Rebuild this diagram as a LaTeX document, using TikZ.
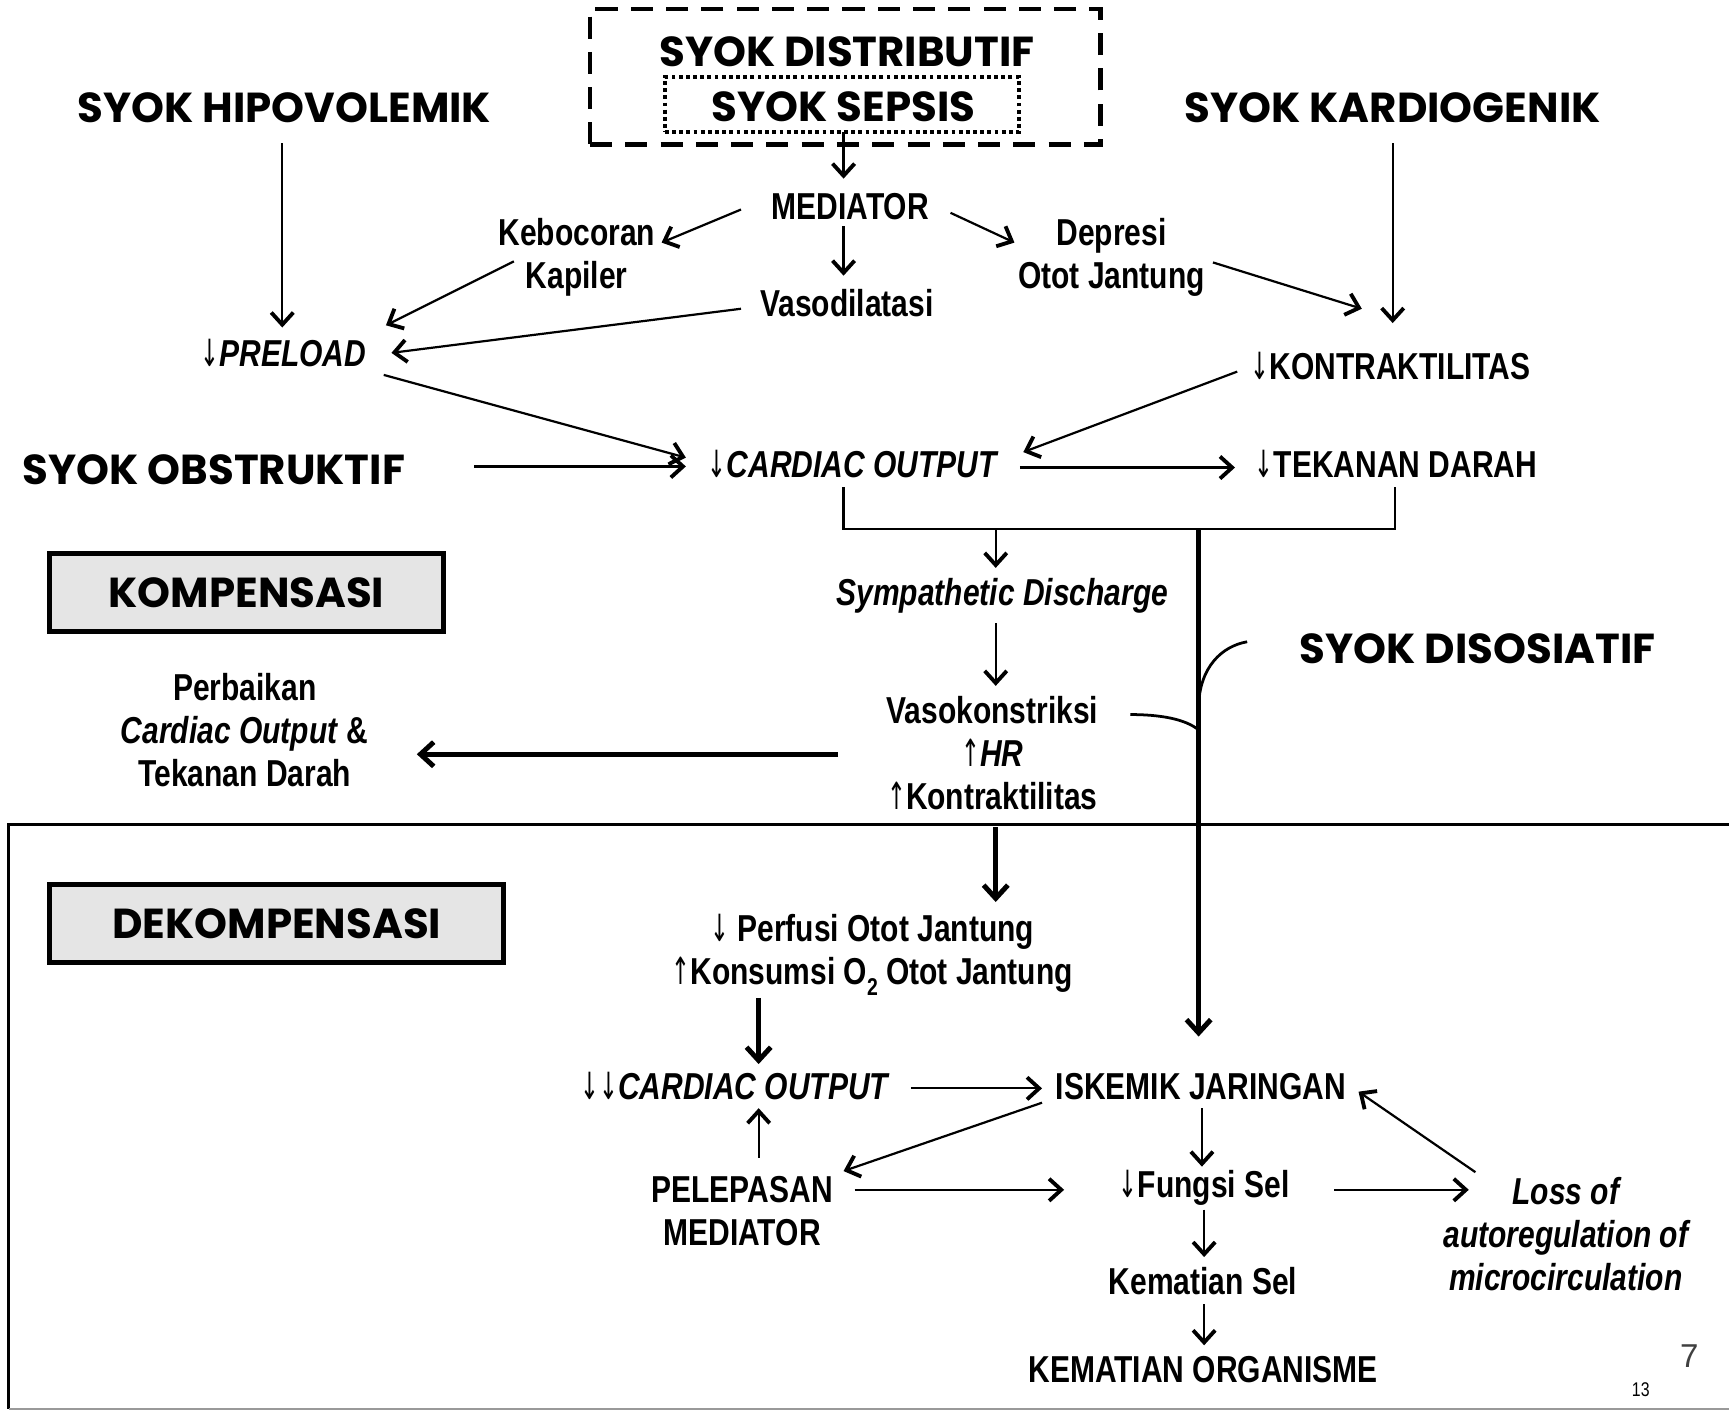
\documentclass[tikz,border=0pt]{standalone}
\usepackage{fontspec}
\setmainfont{Liberation Sans}[FakeStretch=0.8]
\newfontfamily\titlefont{Poppins}
\newfontfamily\arrfont{DejaVu Sans}[FakeStretch=0.6]
\newfontfamily\plainfont{Liberation Sans}
\usetikzlibrary{arrows.meta,calc}
\newcommand{\darr}{{\arrfont\mdseries\upshape ↓}}
\newcommand{\uarr}{{\arrfont\mdseries\upshape ↑}}
\begin{document}
\begin{tikzpicture}[x=1pt,y=-1pt,
  title/.style={font=\titlefont\bfseries\fontsize{38}{44}\selectfont, inner sep=0pt},
  txt/.style={font=\bfseries\fontsize{34}{39}\selectfont, align=center, inner sep=0pt},
  itx/.style={font=\bfseries\itshape\fontsize{34}{39}\selectfont, align=center, inner sep=0pt},
  arr/.style={line width=2pt, -{Straight Barb[length=11pt,width=20pt,line width=3.5pt]}},
  thickarr/.style={line width=4.5pt, -{Straight Barb[length=12pt,width=22pt,line width=4.5pt]}},
  thin/.style={line width=2pt},
  labelbox/.style={draw, line width=4.5pt, fill=black!10, inner sep=0pt,
    font=\titlefont\bfseries\fontsize{38}{44}\selectfont},
]
\useasboundingbox (0,0) rectangle (1568,1280);

% top boxes
\node[draw, dashed, line width=4pt, dash pattern=on 20pt off 12pt, minimum width=463pt, minimum height=123pt, inner sep=0pt] (distbox) at (766.5,69.5) {};
\node[draw, line width=3.5pt, dash pattern=on 3.5pt off 3pt, minimum width=321pt, minimum height=50pt, inner sep=0pt] (sepbox) at (763.5,95) {};
\node[title] (distrib) at (768,47) {SYOK DISTRIBUTIF};
\node[title] (sepsis) at (765,97) {SYOK SEPSIS};

\node[title] (hipo) at (258,98) {SYOK HIPOVOLEMIK};
\node[title] (kardio) at (1263,98) {SYOK KARDIOGENIK};
\node[title] (obstr) at (194,426) {SYOK OBSTRUKTIF};
\node[title] (disos) at (1340,588) {SYOK DISOSIATIF};

\node[txt] (mediator) at (771,187) {MEDIATOR};
\node[txt] (keb) at (523,233) {Kebocoran\\Kapiler};
\node[txt] (vaso) at (768,275) {Vasodilatasi};
\node[txt] (depresi) at (1008,233) {Depresi\\Otot Jantung};
\node[itx] (preload) at (257,320) {\darr PRELOAD};
\node[txt] (kontr) at (1261,332) {\darr KONTRAKTILITAS};
\node[itx] (co) at (773,421) {\darr CARDIAC OUTPUT};
\node[txt] (td) at (1266,421) {\darr TEKANAN DARAH};
\node[itx] (symp) at (909,540) {Sympathetic Discharge};
\node[txt] (vasok) at (900,683) {Vasokonstriksi\\\uarr\textit{HR}\\\uarr Kontraktilitas};
\node[txt] (perb) at (222,662) {Perbaikan\\\textit{Cardiac Output} \&\\Tekanan Darah};

\node[labelbox, minimum width=357pt, minimum height=71pt] (komp) at (223.5,537.5) {KOMPENSASI};
\node[labelbox, minimum width=412pt, minimum height=71pt] (dekomp) at (251,837.5) {DEKOMPENSASI};

\node[txt] (perf) at (791,866) {\darr\ Perfusi Otot Jantung\\\uarr Konsumsi O\raisebox{-0.3em}{\fontsize{22}{24}\selectfont 2} Otot Jantung};
\node[txt] (cco) at (667,985) {\darr\darr\textit{CARDIAC OUTPUT}};
\node[txt] (isk) at (1089,985) {ISKEMIK JARINGAN};
\node[txt] (pel) at (673,1098) {PELEPASAN\\MEDIATOR};
\node[txt] (fungsi) at (1092,1077) {\darr Fungsi Sel};
\node[txt] (kemsel) at (1091,1162) {Kematian Sel};
\node[txt] (kemorg) at (1091,1242) {KEMATIAN ORGANISME};
\node[itx] (loss) at (1420,1119) {Loss of\\autoregulation of\\microcirculation};

\node[font=\plainfont\fontsize{30}{34}\selectfont, text=black!75, inner sep=0pt] (seven) at (1532,1230) {7};
\node[font=\fontsize{18}{20}\selectfont, inner sep=0pt] (thirteen) at (1488,1260) {13};

% frame
\draw[line width=2.5pt] (1568,748) -- (8,748) -- (8,1278);
\draw[line width=2pt, black!40] (8,1278) -- (1568,1278);

% connectors top
\draw[arr] ($(sepbox)+(1.5,25)$) -- ($(mediator)+(-6,-25)$);
\draw[arr] ($(mediator)+(-99,3)$) -- ($(keb)+(77,-13)$);
\draw[arr] ($(mediator)+(-6,18)$) -- ($(vaso)+(-3,-25)$);
\draw[arr] ($(mediator)+(91,6)$) -- ($(depresi)+(-88,-13)$);
\draw[arr] ($(depresi)+(92,5)$) -- ($(kontr)+(-26,-52)$);
\draw[arr] ($(kardio)+(0,32)$) -- ($(kontr)+(2,-39)$);
\draw[arr] ($(hipo)+(-2,32)$) -- ($(preload)+(-1,-23)$);
\draw[arr] ($(keb)+(-57,4)$) -- ($(preload)+(93,-25)$);
\draw[arr] ($(vaso)+(-96,5)$) -- ($(preload)+(98,0)$);
\draw[arr] ($(kontr)+(-139,5)$) -- ($(co)+(155,-11)$);
\draw[arr] ($(preload)+(91,20)$) -- ($(co)+(-151,-6)$);
\draw[arr] ($(obstr)+(236,-3)$) -- ($(co)+(-151,2)$);
\draw[arr] ($(co)+(152,3)$) -- ($(td)+(-146,3)$);

% bracket
\draw[thin] ($(co)+(-8,21)$) -- ++(0,38) coordinate (brl) -| ($(td)+(-1,21)$);
\coordinate (brk) at (brl -| 1087,0);
\draw[arr] ($(symp)+(-6,-60)$) -- ($(symp)+(-6,-25)$);
\draw[thickarr] (brk) -- ($(isk)+(-2,-45)$);
\draw[arr] ($(symp)+(-6,25)$) -- ($(vasok)+(3,-61)$);

% junction curves
\draw[line width=2.5pt] ($(disos)+(-209,-6)$) .. controls (1108,586) and (1088,605) .. (1087,640);
\draw[line width=2.5pt] ($(vasok)+(125,-35)$) .. controls (1052,648) and (1075,652) .. (1087,662);

\draw[thickarr] ($(vasok)+(-140,1)$) -- ($(perb)+(156,22)$);
\draw[thickarr] ($(vasok)+(3,67)$) -- ($(perf)+(112,-48)$);
\draw[thickarr] ($(perf)+(-103,39)$) -- ($(cco)+(21,-20)$);

% decompensation connectors
\draw[arr] ($(pel)+(15,-48)$) -- ($(cco)+(21,20)$);
\draw[arr] ($(cco)+(159,2)$) -- ($(isk)+(-144,2)$);
\draw[arr] ($(isk)+(-144,15)$) -- ($(pel)+(92,-36)$);
\draw[arr] ($(pel)+(102,-19)$) -- ($(fungsi)+(-127,2)$);
\draw[arr] ($(isk)+(1,20)$) -- ($(fungsi)+(-2,-19)$);
\draw[arr] ($(fungsi)+(0,20)$) -- ($(kemsel)+(1,-22)$);
\draw[arr] ($(kemsel)+(1,21)$) -- ($(kemorg)+(1,-22)$);
\draw[arr] ($(fungsi)+(118,2)$) -- ($(loss)+(-88,-40)$);
\draw[arr] ($(loss)+(-82,-56)$) -- ($(isk)+(143,5)$);
\end{tikzpicture}
\end{document}
